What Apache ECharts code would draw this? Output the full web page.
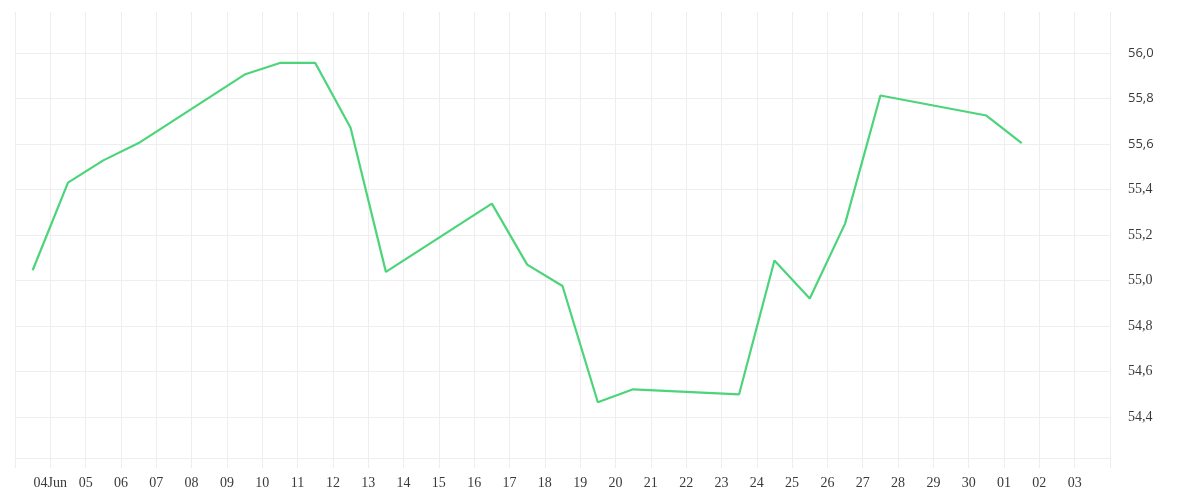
<!DOCTYPE html>
<html>
<head>
<meta charset="utf-8">
<script src="https://cdn.jsdelivr.net/npm/echarts@6/dist/echarts.min.js"></script>
<style>
  html, body { margin: 0; padding: 0; background: #fff; }
  #chart { width: 1200px; height: 500px; }
</style>
</head>
<body>
<div id="chart"></div>
<script>
// Trading days (plotted at midday) and closing values
const dates = [
  '2025-06-03 12:00', '2025-06-04 12:00', '2025-06-05 12:00', '2025-06-06 12:00',
  '2025-06-09 12:00', '2025-06-10 12:00', '2025-06-11 12:00', '2025-06-12 12:00',
  '2025-06-13 12:00', '2025-06-16 12:00', '2025-06-17 12:00', '2025-06-18 12:00',
  '2025-06-19 12:00', '2025-06-20 12:00', '2025-06-23 12:00', '2025-06-24 12:00',
  '2025-06-25 12:00', '2025-06-26 12:00', '2025-06-27 12:00', '2025-06-30 12:00',
  '2025-07-01 12:00'
];
const values = [
  55.045, 55.43, 55.528, 55.604,
  55.905, 55.956, 55.956, 55.671,
  55.038, 55.338, 55.07, 54.976,
  54.465, 54.522, 54.50, 55.088,
  54.921, 55.25, 55.813, 55.725,
  55.604
];
// X tick labels, one per day boundary from 2025-06-03 to 2025-07-04
const tickDays = [
  '2025-06-03', '2025-06-04', '2025-06-05', '2025-06-06', '2025-06-07', '2025-06-08',
  '2025-06-09', '2025-06-10', '2025-06-11', '2025-06-12', '2025-06-13', '2025-06-14',
  '2025-06-15', '2025-06-16', '2025-06-17', '2025-06-18', '2025-06-19', '2025-06-20',
  '2025-06-21', '2025-06-22', '2025-06-23', '2025-06-24', '2025-06-25', '2025-06-26',
  '2025-06-27', '2025-06-28', '2025-06-29', '2025-06-30', '2025-07-01', '2025-07-02',
  '2025-07-03', '2025-07-04'
];
const tickLabels = [
  '', '04Jun', '05', '06', '07', '08',
  '09', '10', '11', '12', '13', '14',
  '15', '16', '17', '18', '19', '20',
  '21', '22', '23', '24', '25', '26',
  '27', '28', '29', '30', '01', '02',
  '03', ''
];
const yMin = 54.22, yMax = 56.18;

const labelMap = {};
tickDays.forEach((d, i) => {
  const t = new Date(d + 'T00:00:00').getTime();
  labelMap[t] = tickLabels[i];
});
const pad = n => (n < 10 ? '0' : '') + n;

const gridColor = '#eeeeee';
// horizontal grid lines: bottom edge, 54,4 ... 56,0, top edge (top edge not drawn)
const hLineColors = [gridColor, gridColor, gridColor, gridColor, gridColor, gridColor,
  gridColor, gridColor, gridColor, gridColor, 'rgba(0,0,0,0)'];

const chart = echarts.init(document.getElementById('chart'), null, { renderer: 'canvas' });
chart.setOption({
  animation: false,
  backgroundColor: '#ffffff',
  grid: { left: 15, right: 90, top: 12, bottom: 42, containLabel: false },
  xAxis: {
    type: 'time',
    min: tickDays[0] + ' 00:00',
    max: tickDays[tickDays.length - 1] + ' 00:00',
    splitNumber: 31,
    minInterval: 86400000,
    maxInterval: 86400000,
    axisLine: { show: true, lineStyle: { color: gridColor, width: 1 } },
    axisTick: { show: true, length: 10, lineStyle: { color: gridColor, width: 1 } },
    splitLine: { show: true, lineStyle: { color: gridColor, width: 1 } },
    axisLabel: {
      show: true,
      margin: 18,
      fontFamily: 'Liberation Serif',
      fontSize: 14,
      color: '#3a3a3a',
      hideOverlap: false,
      showMinLabel: false,
      showMaxLabel: false,
      formatter: function (value) {
        const d = new Date(value);
        const key = new Date(d.getFullYear(), d.getMonth(), d.getDate()).getTime();
        if (labelMap[key] !== undefined) return labelMap[key];
        return pad(d.getDate());
      }
    }
  },
  yAxis: {
    type: 'value',
    position: 'right',
    min: yMin,
    max: yMax,
    splitNumber: 10,
    scale: true,
    axisLine: { show: false },
    axisTick: { show: false },
    splitLine: { show: true, lineStyle: { color: hLineColors, width: 1 } },
    axisLabel: {
      show: true,
      margin: 18,
      showMinLabel: false,
      showMaxLabel: false,
      formatter: function (v) {
        const txt = v.toFixed(1).replace('.', ',');
        return v >= 55.55 ? '{s|' + txt + '}' : '{r|' + txt + '}';
      },
      rich: {
        s: { fontFamily: 'Open Sans', fontSize: 13, color: '#3a3a3a' },
        r: { fontFamily: 'Liberation Serif', fontSize: 14, color: '#3a3a3a' }
      }
    }
  },
  series: [{
    type: 'line',
    data: dates.map((d, i) => [d, values[i]]),
    showSymbol: false,
    symbol: 'none',
    lineStyle: { color: '#4cd47a', width: 2.2 },
    itemStyle: { color: '#4cd47a' }
  }]
});
</script>
</body>
</html>
